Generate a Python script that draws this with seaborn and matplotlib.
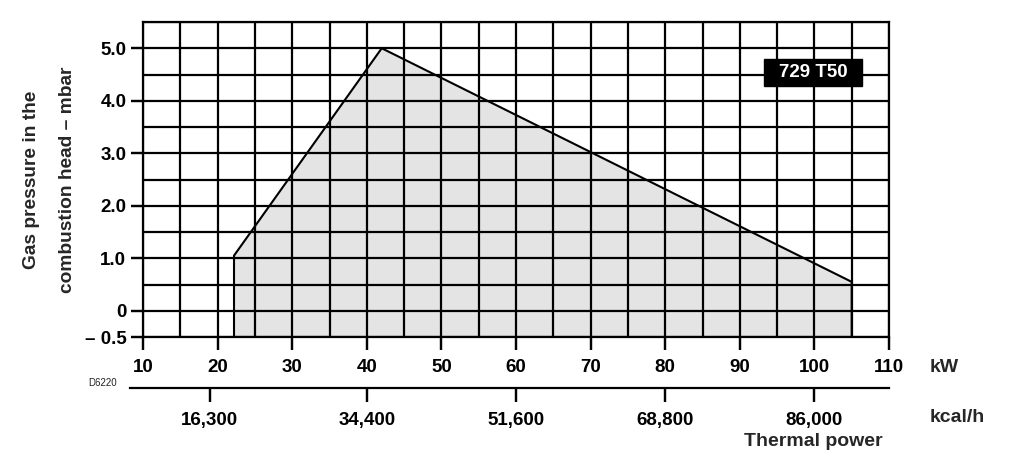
import numpy as np
import pandas as pd
import matplotlib
matplotlib.use("Agg")
import matplotlib.pyplot as plt
from matplotlib.patches import Rectangle
from matplotlib.collections import LineCollection
import seaborn as sns

# ---- data ----
power_kw = [22.2, 22.2, 42.0, 105.0, 105.0]
pressure_mbar = [-0.5, 1.05, 5.0, 0.55, -0.5]
kw_ticks = [10, 20, 30, 40, 50, 60, 70, 80, 90, 100, 110]
y_ticks = [-0.5, 0, 1.0, 2.0, 3.0, 4.0, 5.0]
y_tick_labels = ["\u2013 0.5", "0", "1.0", "2.0", "3.0", "4.0", "5.0"]
kcal_ticks = [16300, 34400, 51600, 68800, 86000]
kcal_tick_labels = ["16,300", "34,400", "51,600", "68,800", "86,000"]
KCAL_PER_KW = 860.0
model_label = "729 T50"

sns.set_theme(style="ticks")
plt.rcParams['font.family'] = ['Liberation Sans', 'DejaVu Sans']
plt.rcParams['font.weight'] = 'bold'
plt.rcParams['xtick.bottom'] = True
plt.rcParams['ytick.left'] = True

W, H = 1024, 459
AX_L, AX_R, AX_T, AX_B = 143, 889, 22, 337
ax_w_px, ax_h_px = AX_R - AX_L, AX_B - AX_T
fig = plt.figure(figsize=(W / 100, H / 100), dpi=100)
ax = fig.add_axes([AX_L / W, 1 - AX_B / H, ax_w_px / W, ax_h_px / H])

XMIN, XMAX = 10, 110
YMIN, YMAX = -0.5, 5.5
ax.set_xlim(XMIN, XMAX)
ax.set_ylim(YMIN, YMAX)

df = pd.DataFrame({"kW": power_kw, "mbar": pressure_mbar})
ax.fill(df["kW"], df["mbar"], color="#e4e4e4", zorder=1, lw=0)
sns.lineplot(data=df, x="kW", y="mbar", sort=False, estimator=None, color="black",
             linewidth=1.5, ax=ax, zorder=3)

ax.set_xticks(kw_ticks)
ax.set_xticklabels([str(t) for t in kw_ticks])
ax.set_yticks(y_ticks)
ax.set_yticklabels(y_tick_labels)
# grid every 5 kW / 0.5 mbar
ax.set_xticks(np.arange(XMIN, XMAX + 1, 5), minor=True)
ax.set_yticks(np.arange(YMIN, YMAX + 0.01, 0.5), minor=True)
ax.grid(which="both", color="black", linewidth=1.6, zorder=2)
ax.set_axisbelow(False)

TICK_LEN_PT = 9
ax.tick_params(axis="both", which="major", direction="out", length=TICK_LEN_PT, width=1.6,
               color="black", labelsize=13.5, pad=3, labelcolor="black",
               bottom=True, left=True)
ax.tick_params(axis="x", which="major", pad=7)
ax.tick_params(which="minor", length=0)
for s in ax.spines.values():
    s.set_visible(True)
    s.set_color("black")
    s.set_linewidth(1.6)

ax.set_xlabel("")
ax.set_ylabel("Gas pressure in the\ncombustion head \u2013 mbar", fontsize=13.8,
              fontweight="bold", linespacing=2.4)
ax.yaxis.label.set_va("center")
ax.yaxis.set_label_coords((49.5 - AX_L) / ax_w_px, 0.5)

# model label box
ax.add_patch(Rectangle(((764 - AX_L) / ax_w_px, (AX_B - 86) / ax_h_px), 98 / ax_w_px,
                       27 / ax_h_px, transform=ax.transAxes, facecolor="black",
                       edgecolor="black", zorder=5))
ax.text((813 - AX_L) / ax_w_px, (AX_B - 72.5) / ax_h_px, model_label, transform=ax.transAxes,
        ha="center", va="center", color="white", fontsize=13.5, fontweight="bold",
        zorder=6)

# secondary kcal/h axis
AX2_L, AX2_Y, AX2_H = 130, 388, 10
ax2 = fig.add_axes([AX2_L / W, 1 - AX2_Y / H, (AX_R - AX2_L) / W, AX2_H / H])
kw_left = XMIN - (AX_L - AX2_L) / ax_w_px * (XMAX - XMIN)
ax2.set_xlim(kw_left * KCAL_PER_KW, XMAX * KCAL_PER_KW)
ax2.set_ylim(0, 1)
ax2.set_yticks([])
ax2.set_xticks(kcal_ticks)
ax2.set_xticklabels(kcal_tick_labels)
for k in ["top", "left", "right"]:
    ax2.spines[k].set_visible(False)
ax2.spines["bottom"].set_color("black")
ax2.spines["bottom"].set_linewidth(1.6)
ax2.patch.set_alpha(0)
TICK2_LEN_PT = 10
ax2.tick_params(axis="x", direction="out", length=TICK2_LEN_PT, width=1.6, color="black",
                labelsize=13.5, pad=7, labelcolor="black", bottom=True)

# outward tick marks drawn at figure level (same positions as the axis ticks)
tick_px = TICK_LEN_PT * 100 / 72
tick2_px = TICK2_LEN_PT * 100 / 72
x_segs = [[(t, 0.0), (t, -tick_px / ax_h_px)] for t in kw_ticks]
y_segs = [[(-tick_px / ax_w_px, t), (0.0, t)] for t in y_ticks]
k_segs = [[(t, 0.0), (t, -tick2_px / AX2_H)] for t in kcal_ticks]
for segs, tr in [(x_segs, ax.get_xaxis_transform()),
                 (y_segs, ax.get_yaxis_transform()),
                 (k_segs, ax2.get_xaxis_transform())]:
    lc = LineCollection(segs, transform=tr, colors="black", linewidths=1.6,
                        zorder=10, clip_on=False)
    fig.add_artist(lc)

fig.text(930 / W, 1 - 367 / H, "kW", fontsize=14, fontweight="bold", va="center", ha="left")
fig.text(930 / W, 1 - 418 / H, "kcal/h", fontsize=14, fontweight="bold", va="center", ha="left")
fig.text(813 / W, 1 - 442 / H, "Thermal power", fontsize=14, fontweight="bold",
         va="center", ha="center")
fig.text(88 / W, 1 - 383 / H, "D6220", fontsize=7, fontweight="normal",
         va="center", ha="left", color="#222222")

fig.savefig("out.png", dpi=100, facecolor="white")
